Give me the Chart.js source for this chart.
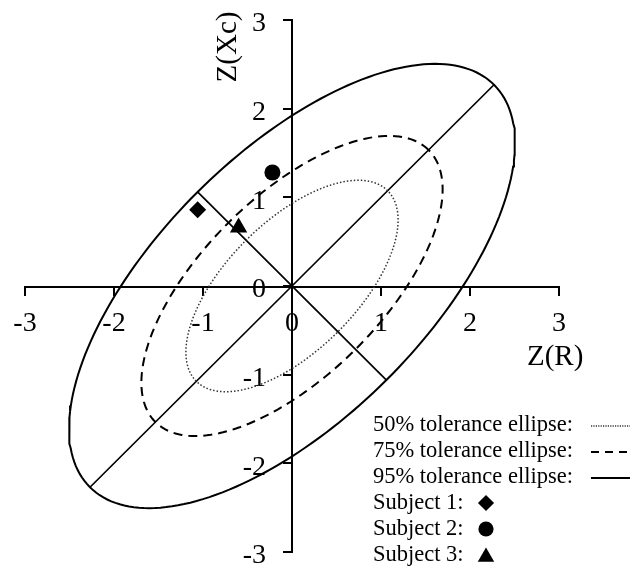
<!DOCTYPE html>
<html>
<head>
<meta charset="utf-8">
<script src="https://cdn.jsdelivr.net/npm/chart.js@4.4.1/dist/chart.umd.min.js"></script>
<style>
  html, body { margin: 0; padding: 0; background: #fff; }
  #wrap { width: 630px; height: 569px; }
</style>
</head>
<body>
<div id="wrap"><canvas id="chart" width="630" height="569"></canvas></div>
<script>
// z-scores on both axes
const axisTicks = [-3, -2, -1, 0, 1, 2, 3];
const axisTitles = ['Z(R)', 'Z(Xc)'];

// tolerance ellipses (50%, 75%, 95%), semi-axes in z units, tilted 45°
const ellipseLabels = ['50% tolerance ellipse:', '75% tolerance ellipse:', '95% tolerance ellipse:'];
const semiMajor = [1.52, 2.17, 3.21];
const semiMinor = [0.73, 1.01, 1.50];
const ellipseAngle = 45;

// subjects
const subjectLabels = ['Subject 1:', 'Subject 2:', 'Subject 3:'];
const subjectR = [-1.06, -0.22, -0.60];
const subjectXc = [0.86, 1.28, 0.66];

const FONT = '"Liberation Serif", "Times New Roman", serif';
const ellipseDash = [[1.5, 2], [9, 6], []];
const ellipseWidth = [1.5, 2, 2];
const ellipseColor = ['#333', '#000', '#000'];
const subjectStyle = ['rectRot', 'circle', 'triangle'];
const subjectRadius = [8.5, 8, 10];

const rad = ellipseAngle * Math.PI / 180;

function ellipsePoints(a, b) {
  const pts = [];
  for (let i = 0; i <= 200; i++) {
    const th = i / 200 * 2 * Math.PI;
    const u = a * Math.cos(th), v = b * Math.sin(th);
    pts.push({ x: u * Math.cos(rad) - v * Math.sin(rad), y: u * Math.sin(rad) + v * Math.cos(rad) });
  }
  return pts;
}

const datasets = [];

subjectLabels.forEach((label, i) => {
  datasets.push({
    label,
    data: [{ x: subjectR[i], y: subjectXc[i] }],
    pointStyle: subjectStyle[i],
    pointRadius: subjectRadius[i],
    pointHoverRadius: subjectRadius[i],
    backgroundColor: '#000',
    borderColor: '#000',
    borderWidth: 0,
    showLine: false
  });
});

ellipseLabels.forEach((label, i) => {
  datasets.push({
    label,
    data: ellipsePoints(semiMajor[i], semiMinor[i]),
    showLine: true,
    pointRadius: 0,
    borderColor: ellipseColor[i],
    borderWidth: ellipseWidth[i],
    borderDash: ellipseDash[i],
    tension: 0,
    fill: false
  });
});

// major and minor axes of the 95% ellipse
const aOut = semiMajor[2], bOut = semiMinor[2];
datasets.push({
  label: 'major axis',
  data: [
    { x: -aOut * Math.cos(rad), y: -aOut * Math.sin(rad) },
    { x: aOut * Math.cos(rad), y: aOut * Math.sin(rad) }
  ],
  showLine: true, pointRadius: 0, borderColor: '#000', borderWidth: 1.7
});
datasets.push({
  label: 'minor axis',
  data: [
    { x: -bOut * Math.sin(rad), y: bOut * Math.cos(rad) },
    { x: bOut * Math.sin(rad), y: -bOut * Math.cos(rad) }
  ],
  showLine: true, pointRadius: 0, borderColor: '#000', borderWidth: 1.7
});

const titlesPlugin = {
  id: 'axisTitles',
  afterDraw(chart) {
    const ctx = chart.ctx;
    ctx.save();
    ctx.fillStyle = '#000';
    ctx.font = '29px ' + FONT;
    ctx.textBaseline = 'middle';
    ctx.textAlign = 'left';
    ctx.fillText(axisTitles[0], 527, 357);
    ctx.translate(228, 47);
    ctx.rotate(-Math.PI / 2);
    ctx.textAlign = 'center';
    ctx.fillText(axisTitles[1], 0, 0);
    ctx.restore();
  }
};

const legendPlugin = {
  id: 'toleranceLegend',
  afterDraw(chart) {
    const ctx = chart.ctx;
    const x0 = 373, y0 = 425, step = 26;
    ctx.save();
    ctx.fillStyle = '#000';
    ctx.strokeStyle = '#000';
    ctx.font = '22.5px ' + FONT;
    ctx.textBaseline = 'middle';
    ctx.textAlign = 'left';
    ellipseLabels.forEach((txt, i) => {
      const y = y0 + i * step;
      ctx.fillText(txt, x0, y);
      ctx.setLineDash(i === 0 ? [1.2, 1.2] : i === 1 ? [8, 6] : []);
      ctx.lineWidth = ellipseWidth[i];
      ctx.strokeStyle = ellipseColor[i];
      ctx.beginPath();
      ctx.moveTo(591, y + 1);
      ctx.lineTo(630, y + 1);
      ctx.stroke();
    });
    ctx.setLineDash([]);
    subjectLabels.forEach((txt, i) => {
      const y = y0 + (i + 3) * step;
      ctx.fillText(txt, x0, y);
      Chart.helpers.drawPoint(ctx, {
        pointStyle: subjectStyle[i],
        radius: subjectRadius[i] * 0.95,
        rotation: 0,
        borderWidth: 0
      }, 486, y + (i === 2 ? 2 : 0));
    });
    ctx.restore();
  }
};

const axisOpts = (padding, labelOffset) => ({
  type: 'linear',
  position: 'center',
  min: -3,
  max: 3,
  afterBuildTicks: scale => { scale.ticks = axisTicks.map(v => ({ value: v })); },
  afterFit: scale => {
    scale.paddingTop = scale.paddingBottom = scale.paddingLeft = scale.paddingRight = 0;
  },
  grid: { display: true, drawOnChartArea: false, drawTicks: true, tickLength: 8, color: '#000', lineWidth: 2 },
  border: { display: true, color: '#000', width: 2 },
  ticks: { color: '#000', font: { family: FONT, size: 28 }, padding, labelOffset, maxRotation: 0, autoSkip: false }
});

new Chart(document.getElementById('chart'), {
  type: 'scatter',
  data: { datasets },
  options: {
    responsive: false,
    animation: false,
    layout: { autoPadding: false, padding: { left: 25, right: 71, top: 20, bottom: 17 } },
    plugins: { legend: { display: false }, tooltip: { enabled: false } },
    scales: {
      x: axisOpts(13, 0),
      y: axisOpts(18, 4)
    }
  },
  plugins: [titlesPlugin, legendPlugin]
});
</script>
</body>
</html>
